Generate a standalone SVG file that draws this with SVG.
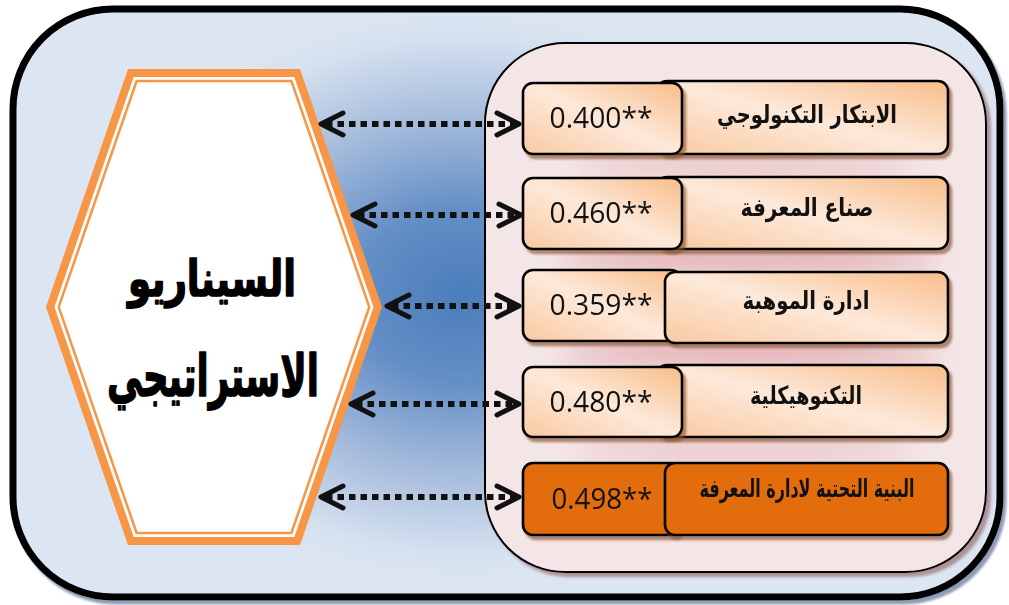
<svg xmlns="http://www.w3.org/2000/svg" width="1009" height="605" viewBox="0 0 1009 605">
  <defs>
    <radialGradient id="bgGrad" gradientUnits="userSpaceOnUse" cx="462" cy="295" r="360" gradientTransform="translate(462 295) scale(1 0.8) translate(-462 -295)">
      <stop offset="0" stop-color="#4a7dbb"/>
      <stop offset="0.3" stop-color="#648fc6"/>
      <stop offset="0.62" stop-color="#a6bcdc"/>
      <stop offset="0.9" stop-color="#d6e1f0"/>
      <stop offset="1" stop-color="#dce6f2"/>
    </radialGradient>
    <linearGradient id="peach" x1="1" y1="0" x2="0" y2="1">
      <stop offset="0" stop-color="#f8bd8a"/>
      <stop offset="0.5" stop-color="#fde9da"/>
      <stop offset="1" stop-color="#f9c9a0"/>
    </linearGradient>
    <filter id="boxShadow" x="-10%" y="-20%" width="125%" height="150%">
      <feDropShadow dx="3" dy="4" stdDeviation="1.2" flood-color="#8a5432" flood-opacity="0.65"/>
    </filter>
    <filter id="panelShadow" x="-5%" y="-5%" width="112%" height="112%">
      <feDropShadow dx="4" dy="4" stdDeviation="1.5" flood-color="#8c5a5a" flood-opacity="0.6"/>
    </filter>
    <filter id="frameShadow" x="-5%" y="-5%" width="112%" height="112%">
      <feDropShadow dx="3" dy="4" stdDeviation="1" flood-color="#6f84a3" flood-opacity="0.8"/>
    </filter>
    <filter id="glow" x="-30%" y="-200%" width="160%" height="500%">
      <feGaussianBlur stdDeviation="12"/>
    </filter>
    <style>
      .box { fill: url(#peach); stroke: #000; stroke-width: 2.6; filter: url(#boxShadow); }
      .dark { fill: #e36c0a; stroke: #000; stroke-width: 2.6; filter: url(#boxShadow); }
      .val { font-family: "Open Sans", "DejaVu Sans", sans-serif; font-size: 29px; fill: #111; text-anchor: middle; }
      .lbl { font-family: "DejaVu Sans", sans-serif; font-size: 25px; font-weight: bold; fill: #111; text-anchor: middle; }
      .title { font-family: "DejaVu Sans", sans-serif; font-weight: bold; fill: #000; stroke: #000; stroke-width: 1.6; stroke-linejoin: round; text-anchor: middle; }
      .dots { stroke: #111; stroke-width: 6; stroke-dasharray: 6.5 5; fill: none; }
      .head { stroke: #111; stroke-width: 5; fill: none; stroke-linecap: round; stroke-linejoin: round; }
    </style>
  </defs>

  <!-- outer frame -->
  <g id="frame">
    <rect x="13" y="9" width="987" height="588" rx="100" ry="100" fill="url(#bgGrad)" stroke="#000" stroke-width="7" filter="url(#frameShadow)"/>
  </g>

  <!-- central hexagon -->
  <g id="scenario">
    <polygon points="128,69 300,69 382,307 300,545 128,545 46,307" fill="#f79646"/>
    <polygon points="133.7,77 294.3,77 373.5,307 294.3,537 133.7,537 54.5,307" fill="#ffffff"/>
    <polygon points="136.6,81 291.4,81 369.3,307 291.4,533 136.6,533 58.7,307" fill="#ffffff" stroke="#f79646" stroke-width="2.5"/>
    <text class="title" x="212" y="296" font-size="50" textLength="168" lengthAdjust="spacingAndGlyphs">السيناريو</text>
    <text class="title" x="213" y="396" font-size="58" textLength="212" lengthAdjust="spacingAndGlyphs">الاستراتيجي</text>
  </g>

  <!-- dimensions panel -->
  <g id="panel">
    <rect x="485" y="43" width="501" height="529" rx="80" ry="80" fill="#f4e6e6" stroke="#000" stroke-width="2" filter="url(#panelShadow)"/>
    <g filter="url(#glow)" fill="#d88e95" opacity="0.75">
      <ellipse cx="745" cy="166" rx="170" ry="9" opacity="0.6"/>
      <ellipse cx="750" cy="259" rx="190" ry="11"/>
      <ellipse cx="750" cy="353" rx="190" ry="11"/>
      <ellipse cx="745" cy="450" rx="170" ry="9" opacity="0.6"/>
    </g>
  </g>

  <g id="row1">
    <rect class="box" x="657" y="81" width="291" height="73" rx="10"/>
    <rect class="box" x="523" y="83" width="159" height="71" rx="10"/>
    <text class="val" x="601" y="128" textLength="103" lengthAdjust="spacingAndGlyphs">0.400**</text>
    <text class="lbl" x="807" y="123" textLength="180" lengthAdjust="spacingAndGlyphs">الابتكار التكنولوجي</text>
  </g>

  <g id="row2">
    <rect class="box" x="657" y="177" width="291" height="72" rx="10"/>
    <rect class="box" x="523" y="178" width="159" height="71" rx="10"/>
    <text class="val" x="601" y="223" textLength="103" lengthAdjust="spacingAndGlyphs">0.460**</text>
    <text class="lbl" x="807" y="216" textLength="133" lengthAdjust="spacingAndGlyphs">صناع المعرفة</text>
  </g>

  <g id="row3">
    <rect class="box" x="523" y="270" width="158" height="71" rx="10"/>
    <rect class="box" x="665" y="272" width="283" height="71" rx="10"/>
    <text class="val" x="601" y="315" textLength="103" lengthAdjust="spacingAndGlyphs">0.359**</text>
    <text class="lbl" x="806" y="309" textLength="127" lengthAdjust="spacingAndGlyphs">ادارة الموهبة</text>
  </g>

  <g id="row4">
    <rect class="box" x="657" y="365" width="291" height="72" rx="10"/>
    <rect class="box" x="523" y="367" width="159" height="70" rx="10"/>
    <text class="val" x="601" y="412" textLength="103" lengthAdjust="spacingAndGlyphs">0.480**</text>
    <text class="lbl" x="806" y="404" textLength="112" lengthAdjust="spacingAndGlyphs">التكنوهيكلية</text>
  </g>

  <g id="row5">
    <rect class="dark" x="523" y="463" width="159" height="72" rx="10"/>
    <rect class="dark" x="665" y="463" width="283" height="72" rx="10"/>
    <text class="val" x="602" y="509" textLength="101" lengthAdjust="spacingAndGlyphs">0.498**</text>
    <text class="lbl" x="807" y="497" font-size="20" textLength="215" lengthAdjust="spacingAndGlyphs">البنية التحتية لادارة المعرفة</text>
  </g>

  <!-- two-way dotted links -->
  <g id="connectors">
    <line class="dots" x1="326" y1="124" x2="515" y2="124"/>
    <path class="head" d="M343,113 L321,124 L343,135 M497,113 L519,124 L497,135"/>
    <line class="dots" x1="358" y1="215" x2="517" y2="215"/>
    <path class="head" d="M375,204 L353,215 L375,226 M499,204 L521,215 L499,226"/>
    <line class="dots" x1="392" y1="306" x2="515" y2="306"/>
    <path class="head" d="M409,295 L387,306 L409,317 M497,295 L519,306 L497,317"/>
    <line class="dots" x1="356" y1="404" x2="515" y2="404"/>
    <path class="head" d="M373,393 L351,404 L373,415 M497,393 L519,404 L497,415"/>
    <line class="dots" x1="326" y1="497" x2="515" y2="497"/>
    <path class="head" d="M343,486 L321,497 L343,508 M497,486 L519,497 L497,508"/>
  </g>
</svg>
